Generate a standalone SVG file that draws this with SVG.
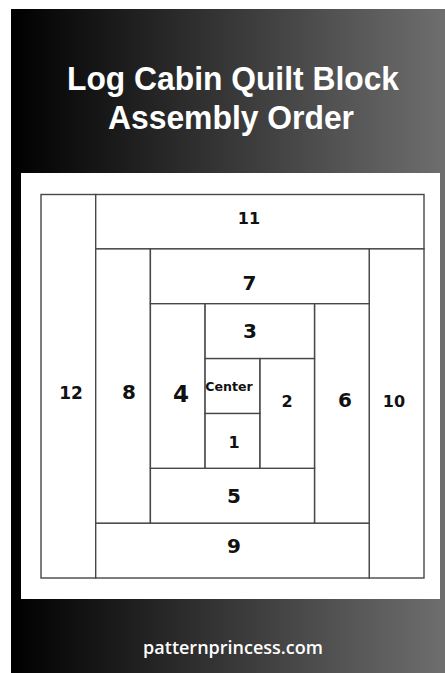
<svg xmlns="http://www.w3.org/2000/svg" width="445" height="673" viewBox="0 0 445 673">
<defs>
<linearGradient id="bg" x1="0" y1="0" x2="1" y2="0">
<stop offset="0" stop-color="#000000"/>
<stop offset="1" stop-color="#6e6e6e"/>
</linearGradient>
<style>
.p{fill:#ffffff;stroke:#474747;stroke-width:1.4}
.n{font-family:"DejaVu Sans",sans-serif;font-weight:bold;fill:#111111;text-anchor:middle}
.t{font-family:"Liberation Sans",Arial,sans-serif;font-weight:bold;fill:#ffffff;text-anchor:middle}
.f{font-family:"Open Sans",sans-serif;font-weight:600;fill:#ffffff;text-anchor:middle}
</style>
</defs>
<rect x="0" y="0" width="445" height="673" fill="#ffffff"/>
<rect x="11" y="9" width="434" height="664" fill="url(#bg)"/>
<text class="t" x="233" y="90" font-size="34" textLength="332" lengthAdjust="spacingAndGlyphs">Log Cabin Quilt Block</text>
<text class="t" x="231" y="128.5" font-size="34" textLength="246" lengthAdjust="spacingAndGlyphs">Assembly Order</text>
<rect x="21" y="173" width="419" height="426" fill="#ffffff"/>
<g id="block">
<g id="p12"><rect class="p" x="41" y="194.5" width="54.7" height="383.5"/><text class="n" x="71" y="399" font-size="17">12</text></g>
<g id="p11"><rect class="p" x="95.7" y="194.5" width="328.3" height="54.4"/><text class="n" x="249" y="224" font-size="16">11</text></g>
<g id="p10"><rect class="p" x="369.2" y="248.9" width="54.8" height="329.1"/><text class="n" x="394" y="406.5" font-size="16">10</text></g>
<g id="p9"><rect class="p" x="95.7" y="523.1" width="273.5" height="54.9"/><text class="n" x="234" y="553" font-size="20">9</text></g>
<g id="p8"><rect class="p" x="95.7" y="248.9" width="54.7" height="274.2"/><text class="n" x="129" y="399" font-size="20">8</text></g>
<g id="p7"><rect class="p" x="150.4" y="248.9" width="218.8" height="54.8"/><text class="n" x="249.5" y="290" font-size="20">7</text></g>
<g id="p6"><rect class="p" x="314.5" y="303.7" width="54.7" height="219.4"/><text class="n" x="345" y="406.5" font-size="20">6</text></g>
<g id="p5"><rect class="p" x="150.4" y="468.3" width="164.1" height="54.8"/><text class="n" x="234" y="502.5" font-size="20">5</text></g>
<g id="p4"><rect class="p" x="150.4" y="303.7" width="54.7" height="164.6"/><text class="n" x="181" y="402" font-size="23">4</text></g>
<g id="p3"><rect class="p" x="205.1" y="303.7" width="109.4" height="54.9"/><text class="n" x="250" y="338" font-size="20">3</text></g>
<g id="p2"><rect class="p" x="259.8" y="358.6" width="54.7" height="109.7"/><text class="n" x="287" y="406.5" font-size="16">2</text></g>
<g id="p1"><rect class="p" x="205.1" y="413.4" width="54.7" height="54.9"/><text class="n" x="234" y="448" font-size="16">1</text></g>
<g id="center"><rect class="p" x="205.1" y="358.6" width="54.7" height="54.8"/><text class="n" x="229" y="391" font-size="13" textLength="47.5" lengthAdjust="spacingAndGlyphs">Center</text></g>
</g>
<text class="f" x="233" y="653.5" font-size="18">patternprincess.com</text>
</svg>
